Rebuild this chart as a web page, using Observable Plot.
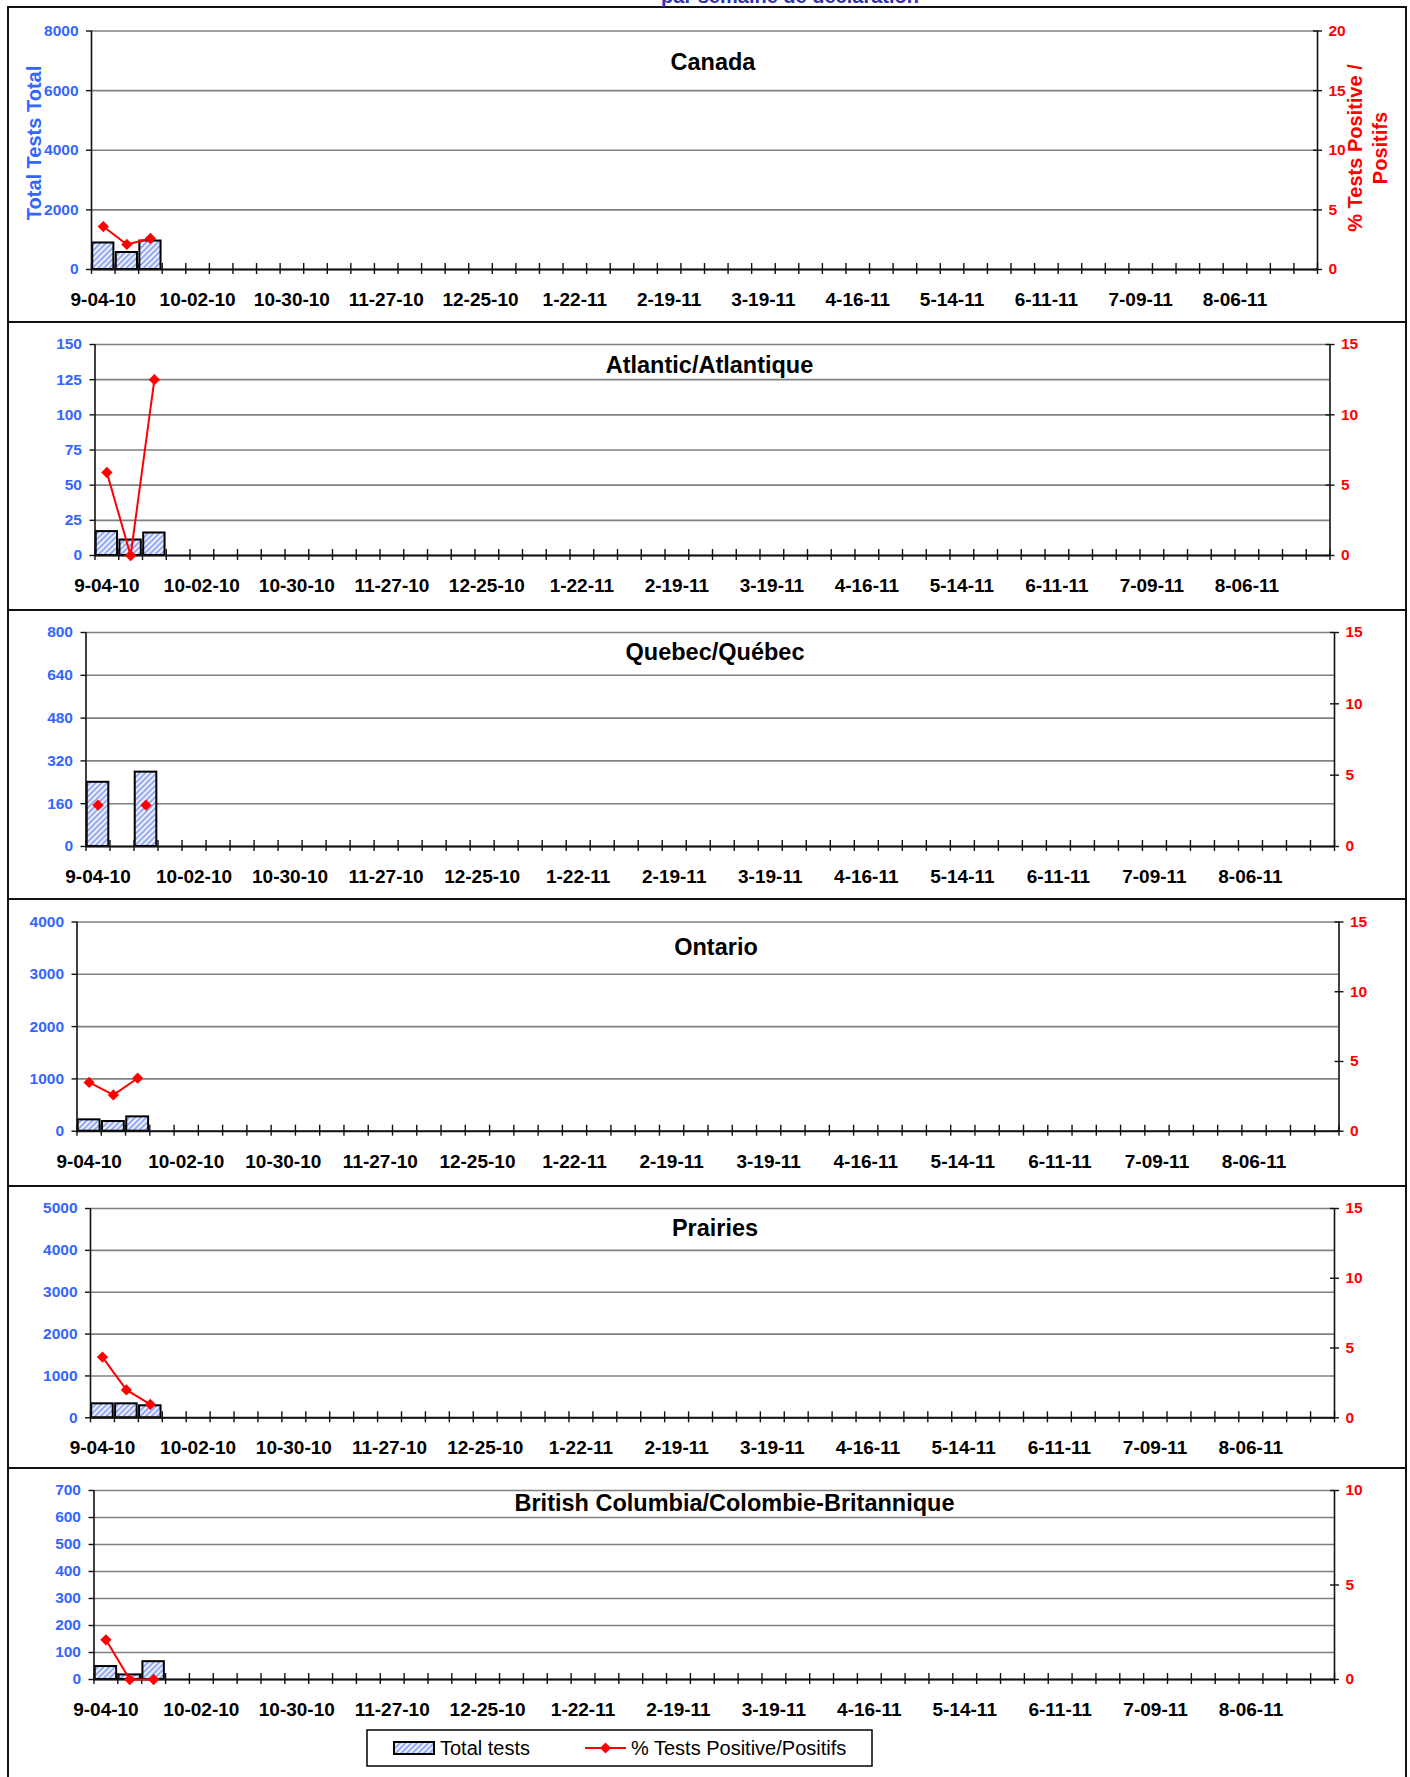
<!DOCTYPE html>
<html><head><meta charset="utf-8">
<script src="https://cdn.jsdelivr.net/npm/d3@7"></script>
<script src="https://cdn.jsdelivr.net/npm/@observablehq/plot@0.6"></script>
<style>
html,body{margin:0;padding:0;background:#fff;}
body{width:1410px;height:1777px;overflow:hidden;position:relative;font-family:"Liberation Sans",Arial,sans-serif;}
.hline{position:absolute;left:7px;width:1400px;height:2px;background:#111;}
.vline{position:absolute;top:6px;width:2px;height:1800px;background:#111;}
.title{position:absolute;transform:translate(-50%,-50%);font-weight:bold;font-size:23.5px;line-height:1;white-space:nowrap;color:#000;}
.rot{position:absolute;transform:translate(-50%,-50%) rotate(-90deg);font-weight:bold;font-size:20px;line-height:25px;white-space:pre;text-align:center;}
.panel{position:absolute;left:0;}
.panel svg{overflow:visible;}
</style></head><body>
<svg width="0" height="0" style="position:absolute;left:0;top:0">
<defs><pattern id="hatch" patternUnits="userSpaceOnUse" width="4" height="4" patternTransform="rotate(45)">
<rect width="4" height="4" fill="#edf1ff"/><line x1="2" y1="0" x2="2" y2="4" stroke="#6f8cec" stroke-width="1.4"/></pattern></defs></svg>
<div id="root"></div>
<script>
// ---- data ----
const weekLabels = ["9-04-10","10-02-10","10-30-10","11-27-10","12-25-10","1-22-11","2-19-11","3-19-11","4-16-11","5-14-11","6-11-11","7-09-11","8-06-11"];
const nWeeks = 52;

const canadaTests = [890, 570, 955];
const canadaPct = [3.6, 2.1, 2.6];
const atlanticTests = [17, 11, 16];
const atlanticPct = [5.9, 0, 12.5];
const quebecTests = [240, null, 278];
const quebecPct = [2.9, null, 2.9];
const ontarioTests = [217, 185, 274];
const ontarioPct = [3.5, 2.6, 3.8];
const prairiesTests = [334, 334, 287];
const prairiesPct = [4.35, 2.0, 0.96];
const bcTests = [48, 17, 66];
const bcPct = [2.1, 0, 0];

const canadaLeftTicks = [0, 2000, 4000, 6000, 8000];
const canadaRightTicks = [0, 5, 10, 15, 20];
const atlanticLeftTicks = [0, 25, 50, 75, 100, 125, 150];
const atlanticRightTicks = [0, 5, 10, 15];
const quebecLeftTicks = [0, 160, 320, 480, 640, 800];
const quebecRightTicks = [0, 5, 10, 15];
const ontarioLeftTicks = [0, 1000, 2000, 3000, 4000];
const ontarioRightTicks = [0, 5, 10, 15];
const prairiesLeftTicks = [0, 1000, 2000, 3000, 4000, 5000];
const prairiesRightTicks = [0, 5, 10, 15];
const bcLeftTicks = [0, 100, 200, 300, 400, 500, 600, 700];
const bcRightTicks = [0, 5, 10];

const titles = ["Canada", "Atlantic/Atlantique", "Quebec/Québec", "Ontario", "Prairies", "British Columbia/Colombie-Britannique"];

// ---- layout (pixels) ----
const panels = [
  {title: titles[0], tests: canadaTests, pct: canadaPct, lt: canadaLeftTicks, rt: canadaRightTicks, top: 7, bottom: 322, L: 91, R: 1317, T: 30.5, B: 269, tx: 713, ty: 63.3},
  {title: titles[1], tests: atlanticTests, pct: atlanticPct, lt: atlanticLeftTicks, rt: atlanticRightTicks, top: 322, bottom: 610, L: 94.5, R: 1329.5, T: 344, B: 555, tx: 709.5, ty: 365.7},
  {title: titles[2], tests: quebecTests, pct: quebecPct, lt: quebecLeftTicks, rt: quebecRightTicks, top: 610, bottom: 899, L: 85.5, R: 1334, T: 632, B: 846, tx: 715, ty: 653.3},
  {title: titles[3], tests: ontarioTests, pct: ontarioPct, lt: ontarioLeftTicks, rt: ontarioRightTicks, top: 899, bottom: 1186, L: 76.5, R: 1338.5, T: 921.5, B: 1130.7, tx: 716, ty: 948.3},
  {title: titles[4], tests: prairiesTests, pct: prairiesPct, lt: prairiesLeftTicks, rt: prairiesRightTicks, top: 1186, bottom: 1468, L: 90, R: 1334, T: 1208, B: 1417.3, tx: 715, ty: 1229},
  {title: titles[5], tests: bcTests, pct: bcPct, lt: bcLeftTicks, rt: bcRightTicks, top: 1468, bottom: 1777, L: 93.5, R: 1334, T: 1490, B: 1679, tx: 734.5, ty: 1504.3}
];

const diamond = {draw(ctx, size) {const r = Math.sqrt(size / 2); ctx.moveTo(0, -r); ctx.lineTo(r, 0); ctx.lineTo(0, r); ctx.lineTo(-r, 0); ctx.closePath();}};
const FONT = "'Liberation Sans', Arial, sans-serif";
const root = document.getElementById("root");
const labelTicks = weekLabels.map((_, j) => j * 4 + 0.5);

panels.forEach(p => {
  const leftMax = p.lt[p.lt.length - 1];
  const rightMax = p.rt[p.rt.length - 1];
  const k = leftMax / rightMax;
  const rows = p.tests.map((t, i) => ({i, t, p: p.pct[i]}));
  const h = p.bottom - p.top;
  const chart = Plot.plot({
    width: 1410, height: h,
    marginLeft: p.L, marginRight: 1410 - p.R, marginTop: p.T - p.top, marginBottom: p.top + h - p.B,
    x: {domain: [0, nWeeks]},
    y: {domain: [0, leftMax]},
    style: {background: "transparent", fontFamily: FONT, fontWeight: "bold", overflow: "visible"},
    marks: [
      Plot.ruleY(p.lt, {stroke: "#808080", strokeWidth: 1.6}),
      Plot.rectY(rows.filter(d => d.t != null), {x1: d => d.i, x2: d => d.i + 1, y: "t", fill: "url(#hatch)", stroke: "#000", strokeWidth: 2, insetLeft: 1.2, insetRight: 1.2}),
      Plot.ruleX([0, nWeeks], {stroke: "#111", strokeWidth: 1.6}),
      Plot.ruleY([0], {stroke: "#111", strokeWidth: 2}),
      Plot.ruleX(d3.range(nWeeks + 1), {y1: 0, y2: 0, insetTop: -6, insetBottom: -5, stroke: "#111", strokeWidth: 1.4}),
      Plot.ruleY(p.rt.map(v => v * k), {x1: nWeeks, x2: nWeeks, insetLeft: -4, insetRight: -5, stroke: "#111", strokeWidth: 1.4}),
      Plot.line(rows, {x: d => d.i + 0.5, y: d => d.p == null ? NaN : d.p * k, stroke: "#ff0000", strokeWidth: 2}),
      Plot.dot(rows.filter(d => d.p != null), {x: d => d.i + 0.5, y: d => d.p * k, symbol: diamond, r: 4.5, fill: "#ff0000", stroke: "none"}),
      Plot.axisX({ticks: labelTicks, tickSize: 0, tickPadding: 23, tickFormat: d => weekLabels[Math.round((d - 0.5) / 4)], fontSize: 19, fontWeight: "bold", color: "#000", label: null}),
      Plot.axisY({ticks: p.lt, tickSize: 5, tickPadding: 8, tickFormat: d => String(d), fontSize: 15.5, fontWeight: "bold", color: "#3366ff", stroke: "#111", strokeWidth: 1.4, label: null}),
      Plot.axisY({anchor: "right", ticks: p.rt.map(v => v * k), tickSize: 0, tickPadding: 11, tickFormat: d => String(Math.round(d / k)), fontSize: 15.5, fontWeight: "bold", color: "#ff0000", label: null})
    ]
  });
  const wrap = document.createElement("div");
  wrap.className = "panel";
  wrap.style.top = p.top + "px";
  wrap.appendChild(chart);
  root.appendChild(wrap);
  const t = document.createElement("div");
  t.className = "title";
  t.style.left = p.tx + "px";
  t.style.top = p.ty + "px";
  t.textContent = p.title;
  root.appendChild(t);
});
</script>

<!-- frame -->
<div class="vline" style="left:7px"></div>
<div class="vline" style="left:1405px"></div>
<div class="hline" style="top:6px"></div>
<div class="hline" style="top:321px"></div>
<div class="hline" style="top:609px"></div>
<div class="hline" style="top:898px"></div>
<div class="hline" style="top:1185px"></div>
<div class="hline" style="top:1467px"></div>

<div style="position:absolute;left:790px;top:-14.5px;transform:translateX(-50%);font-size:20px;line-height:20px;font-weight:bold;color:#3333aa;white-space:nowrap;">par semaine de déclaration</div>

<div class="rot" style="left:34px;top:143px;color:#3366ff;">Total Tests Total</div>
<div class="rot" style="left:1367.5px;top:148px;color:#ff0000;">% Tests Positive /
Positifs</div>

<!-- legend -->
<svg style="position:absolute;left:366px;top:1729px" width="508" height="39">
  <rect x="1" y="1" width="505" height="36" fill="#fff" stroke="#000" stroke-width="1.5"/>
  <rect x="28" y="13" width="40" height="12" fill="url(#hatch)" stroke="#000" stroke-width="2"/>
  <text x="74" y="26" font-family="'Liberation Sans', Arial, sans-serif" font-size="20" fill="#000">Total tests</text>
  <line x1="219" y1="19" x2="260" y2="19" stroke="#ff0000" stroke-width="2"/>
  <path d="M239.5,13.5 L245,19 L239.5,24.5 L234,19 Z" fill="#ff0000"/>
  <text x="265" y="26" font-family="'Liberation Sans', Arial, sans-serif" font-size="20" fill="#000">% Tests Positive/Positifs</text>
</svg>
</body></html>
